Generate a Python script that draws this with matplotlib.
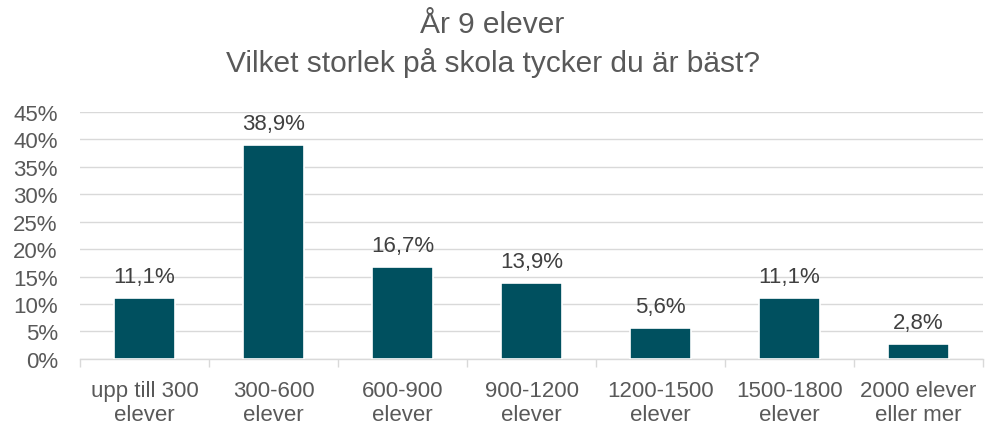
import matplotlib
matplotlib.use("Agg")
import matplotlib.pyplot as plt
import numpy as np

title = "År 9 elever\nVilket storlek på skola tycker du är bäst?"
categories = ["upp till 300\nelever", "300-600\nelever", "600-900\nelever", "900-1200\nelever",
              "1200-1500\nelever", "1500-1800\nelever", "2000 elever\neller mer"]
values = [11.1, 38.9, 16.7, 13.9, 5.6, 11.1, 2.8]
value_labels = ["11,1%", "38,9%", "16,7%", "13,9%", "5,6%", "11,1%", "2,8%"]
yticks = [0, 5, 10, 15, 20, 25, 30, 35, 40, 45]

plt.rcParams['font.family'] = ['Liberation Sans', 'DejaVu Sans']
fig = plt.figure(figsize=(9.85, 4.27), dpi=100)
ax = fig.add_axes([0.0812, 0.157, 0.9168, 0.579])

x = np.arange(len(categories))
ax.bar(x, values, width=0.48, color="#00505F", edgecolor="white", linewidth=1.2, zorder=3)
for xi, v, lab in zip(x, values, value_labels):
    ax.text(xi, v + 2.0, lab, ha="center", va="bottom", fontsize=16, color="#404040")

ax.set_xlim(-0.5, len(categories) - 0.5)
ax.set_ylim(0, 45)
ax.set_yticks(yticks)
ax.set_yticklabels([f"{t}%" for t in yticks], fontsize=16, color="#595959")
ax.yaxis.grid(True, color="#D9D9D9", linewidth=1, zorder=0)
ax.tick_params(axis="y", length=0, pad=16)

ax.set_xticks(x)
ax.set_xticklabels(categories, fontsize=16, color="#595959", linespacing=1.17)
ax.set_xticks(np.arange(-0.5, len(categories)), minor=True)
ax.tick_params(axis="x", which="major", length=0, pad=15)
ax.tick_params(axis="x", which="minor", length=6, color="#D9D9D9", width=1)

for s in ["top", "right", "left"]:
    ax.spines[s].set_visible(False)
ax.spines["bottom"].set_color("#D9D9D9")
ax.spines["bottom"].set_linewidth(1)

fig.text(0.5, 0.975, title, ha="center", va="top", fontsize=21.5, color="#595959", linespacing=1.38)

fig.savefig("out.png", dpi=100)
